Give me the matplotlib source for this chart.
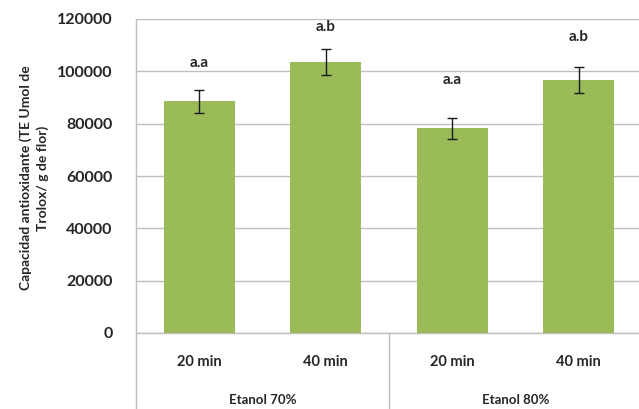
import matplotlib
matplotlib.use("Agg")
import matplotlib.pyplot as plt
from matplotlib.transforms import blended_transform_factory

# Data
groups = ["Etanol 70%", "Etanol 80%"]
times = ["20 min", "40 min", "20 min", "40 min"]
values = [88500, 103500, 78300, 96800]
errors = [4500, 5000, 4000, 5000]
letters = ["a.a", "a.b", "a.a", "a.b"]
letter_y = [103000, 117000, 96700, 113000]

plt.rcParams["font.family"] = ["Lato", "DejaVu Sans"]

fig = plt.figure(figsize=(6.39, 4.09), dpi=100)
ax = fig.add_axes([136 / 639, 76 / 409, 506 / 639, 314 / 409])

x = list(range(len(values)))
ax.bar(x, values, width=0.56, color="#9bbb59", zorder=3)
ax.errorbar(x, values, yerr=errors, fmt="none", ecolor="#1a1a1a",
            elinewidth=1.0, capsize=3.5, capthick=1.0, zorder=4)

for xi, lab, ly in zip(x, letters, letter_y):
    ax.text(xi, ly, lab, ha="center", va="center", fontsize=11,
            fontweight="bold", color="#262626", zorder=5)

ax.set_xlim(-0.5, len(values) - 0.5)
ax.set_ylim(0, 120000)
ax.set_yticks(range(0, 120001, 20000))
ax.set_yticklabels([str(v) for v in range(0, 120001, 20000)],
                   fontsize=11.5, fontweight="bold", color="#262626")
ax.tick_params(axis="y", length=0, pad=17)
ax.set_xticks([])

ax.grid(axis="y", color="#bfbfbf", linewidth=1.0, zorder=0)
for side in ["top", "right"]:
    ax.spines[side].set_visible(False)
ax.spines["left"].set_color("#bfbfbf")
ax.spines["bottom"].set_color("#bfbfbf")
ax.spines["left"].set_linewidth(1.0)
ax.spines["bottom"].set_linewidth(1.0)

# Two-level category axis
trans = blended_transform_factory(ax.transData, ax.transAxes)
for xi, t in zip(x, times):
    ax.text(xi, -0.092, t, transform=trans, ha="center", va="center",
            fontsize=10.5, fontweight="bold", color="#262626")
for gi, g in enumerate(groups):
    ax.text(gi * 2 + 0.5, -0.213, g, transform=trans, ha="center",
            va="center", fontsize=9.5, fontweight="bold", color="#262626")
for bx in [-0.5, 1.5, 3.5]:
    ax.plot([bx, bx], [0, -0.25], transform=trans, color="#bfbfbf",
            linewidth=1.0, clip_on=False)

fig.text(34 / 639, 1 - 178 / 409,
         "Capacidad antioxidante (TE Umol de\nTrolox/ g de flor)",
         rotation=90, ha="center", va="center", fontsize=10,
         fontweight="bold", color="#262626", linespacing=1.45)

fig.savefig("out.png", dpi=100)
